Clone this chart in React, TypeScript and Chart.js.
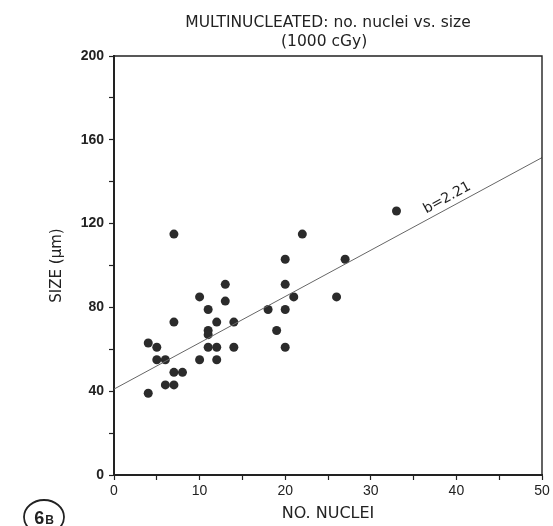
import React, { useEffect, useRef } from "react";
import { Chart, registerables } from "chart.js";
Chart.register(...registerables);

const nuclei = [4, 5, 5, 6, 7, 7, 8, 6, 7, 4, 10, 11, 11, 11, 11, 12, 12, 12, 13, 13, 14, 14, 10, 7, 22, 20, 20, 21, 18, 20, 19, 20, 27, 26, 33];
const sizeUm = [63, 61, 55, 55, 73, 49, 49, 43, 43, 39, 55, 79, 69, 67, 61, 73, 61, 55, 83, 91, 73, 61, 85, 115, 115, 103, 91, 85, 79, 79, 69, 61, 103, 85, 126];
const fitX = [0, 50];
const fitY = [41, 151.5];
const slopeLabel = "b=2.21";
const slopeLabelAt = 36.8;
const titleLines = ["MULTINUCLEATED: no. nuclei vs. size", "(1000 cGy)"];
const xTitle = "NO. NUCLEI";
const yTitle = "SIZE (\u03bcm)";
const panelMain = "6";
const panelSub = "B";

const FONT = "'Liberation Sans', Arial, sans-serif";
const WIDE = "'DejaVu Sans', sans-serif";
const INK = "#222";

const decorPlugin = {
  id: "decor",
  afterDraw(chart: any) {
    const ctx = chart.ctx as CanvasRenderingContext2D;
    const a = chart.chartArea;
    const xs = chart.scales.x;
    const ys = chart.scales.y;
    ctx.save();
    // frame (top and right sides)
    ctx.strokeStyle = INK;
    ctx.lineWidth = 1.4;
    ctx.beginPath();
    ctx.moveTo(a.left, a.top);
    ctx.lineTo(a.right, a.top);
    ctx.lineTo(a.right, a.bottom);
    ctx.stroke();

    ctx.fillStyle = INK;
    // title
    ctx.font = `15.5px ${WIDE}`;
    ctx.textBaseline = "middle";
    ctx.textAlign = "center";
    ctx.fillText(titleLines[0], (a.left + a.right) / 2, 23);
    ctx.textAlign = "left";
    ctx.fillText(titleLines[1], 281, 42);

    // x title
    ctx.font = `16px ${WIDE}`;
    ctx.textAlign = "center";
    ctx.fillText(xTitle, (a.left + a.right) / 2, 514);

    // y title
    ctx.save();
    ctx.translate(57, (a.top + a.bottom) / 2);
    ctx.rotate(-Math.PI / 2);
    ctx.font = `15px ${WIDE}`;
    ctx.textAlign = "center";
    ctx.fillText(yTitle, 0, 0);
    ctx.restore();

    // slope label along the fit line
    const x0 = xs.getPixelForValue(fitX[0]);
    const y0 = ys.getPixelForValue(fitY[0]);
    const x1 = xs.getPixelForValue(fitX[1]);
    const y1 = ys.getPixelForValue(fitY[1]);
    const ang = Math.atan2(y1 - y0, x1 - x0);
    const t = (slopeLabelAt - fitX[0]) / (fitX[1] - fitX[0]);
    const px = x0 + (x1 - x0) * t;
    const py = y0 + (y1 - y0) * t;
    ctx.save();
    ctx.translate(px, py);
    ctx.rotate(ang);
    ctx.font = `14px ${WIDE}`;
    ctx.textAlign = "left";
    ctx.textBaseline = "alphabetic";
    ctx.fillText(slopeLabel, 0, -6);
    ctx.restore();

    // panel label
    ctx.lineWidth = 1.8;
    ctx.beginPath();
    ctx.ellipse(44, 517, 20, 17, 0, 0, Math.PI * 2);
    ctx.stroke();
    ctx.textBaseline = "alphabetic";
    ctx.textAlign = "left";
    ctx.font = `bold 18px ${FONT}`;
    const w6 = ctx.measureText(panelMain).width;
    ctx.font = `bold 12px ${FONT}`;
    const wB = ctx.measureText(panelSub).width;
    const startX = 44 - (w6 + wB + 1) / 2;
    ctx.font = `bold 18px ${FONT}`;
    ctx.fillText(panelMain, startX, 524);
    ctx.font = `bold 12px ${FONT}`;
    ctx.fillText(panelSub, startX + w6 + 1, 524);
    ctx.restore();
  },
};

export default function App() {
  const ref = useRef<HTMLCanvasElement | null>(null);
  useEffect(() => {
    if (!ref.current) return;
    const points = nuclei.map((n, i) => ({ x: n, y: sizeUm[i] }));
    const fit = fitX.map((x, i) => ({ x, y: fitY[i] }));
    const chart = new Chart(ref.current, {
      type: "scatter",
      data: {
        datasets: [
          {
            type: "line",
            data: fit,
            borderColor: "#666",
            borderWidth: 1,
            pointRadius: 0,
            showLine: true,
            fill: false,
          } as any,
          {
            data: points,
            backgroundColor: "#2b2b2b",
            borderColor: "#2b2b2b",
            pointRadius: 4.5,
            borderWidth: 0,
          },
        ],
      },
      options: {
        responsive: false,
        animation: false,
        layout: { padding: { left: 0, top: 56, right: 11, bottom: 0 } },
        plugins: { legend: { display: false }, tooltip: { enabled: false }, title: { display: false } },
        scales: {
          x: {
            type: "linear",
            min: 0,
            max: 50,
            afterFit: (s: any) => {
              s.height = 51;
            },
            ticks: {
              stepSize: 5,
              autoSkip: false,
              maxRotation: 0,
              padding: 3,
              color: INK,
              font: { family: FONT, size: 14 },
              callback: (v: any) => (Number(v) % 10 === 0 ? String(v) : ""),
            },
            grid: { drawOnChartArea: false, drawTicks: true, tickLength: 5, color: INK, tickWidth: 1.2 },
            border: { display: true, color: INK, width: 2 },
          },
          y: {
            type: "linear",
            min: 0,
            max: 200,
            afterFit: (s: any) => {
              s.width = 114;
            },
            ticks: {
              stepSize: 20,
              autoSkip: false,
              padding: 5,
              color: INK,
              font: { family: FONT, size: 14, weight: "bold" },
              callback: (v: any) => (Number(v) % 40 === 0 ? String(v) : ""),
            },
            grid: { drawOnChartArea: false, drawTicks: true, tickLength: 5, color: INK, tickWidth: 1.2 },
            border: { display: true, color: INK, width: 2 },
          },
        },
      },
      plugins: [decorPlugin],
    });
    return () => chart.destroy();
  }, []);
  return (
    <div style={{ position: "fixed", left: 0, top: 0, width: 553, height: 526, background: "#fff" }}>
      <canvas ref={ref} width={553} height={526} style={{ display: "block", width: 553, height: 526 }} />
    </div>
  );
}
